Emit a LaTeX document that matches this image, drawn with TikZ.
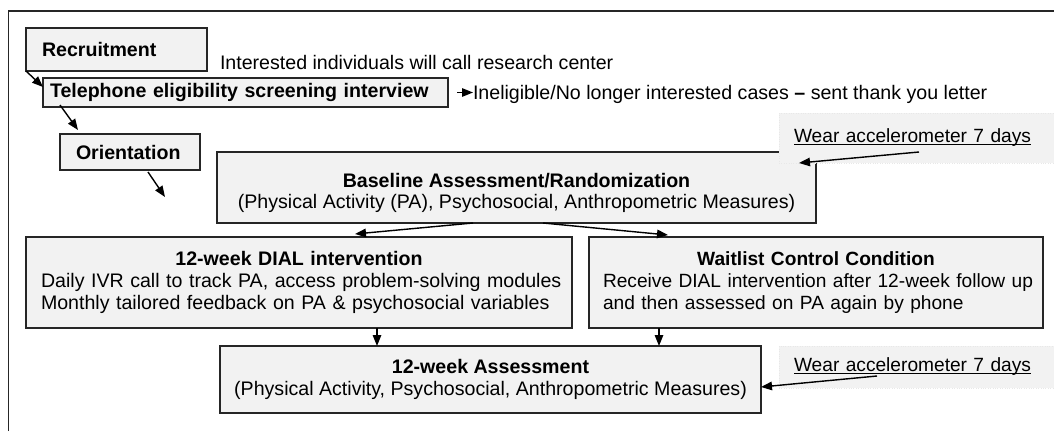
\documentclass[tikz,border=0pt]{standalone}
\usepackage{fontspec}
\setmainfont{Liberation Sans}
\usetikzlibrary{calc,arrows.meta}
\newcommand\myuline[1]{\setbox0=\hbox{#1}\rlap{\rule[-2.2pt]{\wd0}{1.1pt}}\box0}
\begin{document}
\begin{tikzpicture}[x=1pt,y=-1pt,
  every node/.style={font=\fontsize{19.6}{22.3}\selectfont, text=black},
  smaller/.style={font=\fontsize{19.15}{22.3}\selectfont},
  box/.style={draw=black!85, fill=black!5, line width=1.3pt, inner ysep=0pt,
    minimum height=#1, outer sep=0pt},
  plain/.style={inner sep=0pt, outer sep=0pt},
  note/.style={smaller, fill=black!5, draw=black!9, dotted, inner ysep=0pt, outer sep=0pt,
    minimum width=280pt, minimum height=#1, text width=250pt, inner xsep=15pt, align=left},
  arr/.style={-{Triangle[length=11pt,width=8.5pt]}, line width=1.4pt, draw=black}]
\useasboundingbox (0,0) rectangle (1054,431);

% outer frame (runs off the page to the right and bottom)
\draw[line width=1.3pt, draw=black!85] (8.5,431) -- (8.5,11) -- (1054,11);

% recruitment and screening
\node[box=43pt, text width=149pt, inner xsep=16pt, align=left] (recruit) at (116.5,49.5)
  {\textbf{Recruitment}};
\node[plain, anchor=base west] (interest) at (220,69)
  {Interested individuals will call research center};
\node[box=29pt, text width=391pt, inner xsep=7pt, align=left] (tel) at (245.5,92.5)
  {\textbf{Telephone eligibility screening interview}};
\node[plain, anchor=base west] (inel) at (473,99)
  {Ineligible/No longer interested cases \textbf{--} sent thank you letter};
\node[box=36pt, text width=108pt, inner xsep=16pt, align=left] (orient) at (130,152)
  {\textbf{Orientation}};
\coordinate (ofree) at (165,197);

% baseline
\node[box=71pt, minimum width=599pt, align=center] (base) at (516.5,187.5)
  {\rule{0pt}{25pt}\textbf{Baseline Assessment/Randomization}\\[-2pt]
   (Physical Activity (PA), Psychosocial, Anthropometric Measures)};
\node[note=50pt] (wear1) at (919,138)
  {\myuline{Wear accelerometer 7 days}};

% study arms
\node[box=91pt, text width=516pt, inner xsep=15pt, align=left] (dial) at (299,282.5)
  {{\centering\bfseries 12-week DIAL intervention\par}
   \mbox{Daily IVR call to track PA, access problem-solving modules}\\
   \mbox{Monthly tailored feedback on PA \& psychosocial variables}};
\node[box=91pt, smaller, text width=426pt, inner xsep=14pt, align=left] (wait) at (816,282.5)
  {{\centering\bfseries Waitlist Control Condition\par}
   \mbox{Receive DIAL intervention after 12-week follow up}\\
   \mbox{and then assessed on PA again by phone}};

% follow-up assessment
\node[box=67pt, minimum width=541pt, align=center] (assess) at (490.5,379.5)
  {\textbf{12-week Assessment}\\[-1pt]
   (Physical Activity, Psychosocial, Anthropometric Measures)};
\node[note=42pt] (wear2) at (919,367)
  {\myuline{Wear accelerometer 7 days}};

% connectors
\draw[arr] (recruit.south west) -- ($(tel.north west)+(0,9)$);
\draw[arr] ($(tel.south west)+(17,-2)$) -- ($(orient.north west)+(18,-4)$);
\draw[arr] ($(orient.south west)+(88,2)$) -- (ofree);
\draw[arr] ($(tel.east)+(9,0)$) -- (tel.east -| inel.west);
\draw[arr] ($(wear1.south west)+(140,-11)$) -- ($(base.north east)+(-17,11)$);
\draw[arr] ($(base.south west)+(256,0)$) -- ($(dial.north west)+(329,-3)$);
\draw[arr] ($(base.south west)+(326,0)$) -- ($(wait.north west)+(79,-2)$);
\draw[arr] ($(dial.south west)+(351,0)$) -- ($(assess.north west)+(157,0)$);
\draw[arr] ($(wait.south west)+(70,0)$) -- ($(assess.north west)+(439,0)$);
\draw[arr] ($(wear2.south west)+(98,-12)$) -- ($(assess.east)+(0,7.5)$);
\end{tikzpicture}
\end{document}
